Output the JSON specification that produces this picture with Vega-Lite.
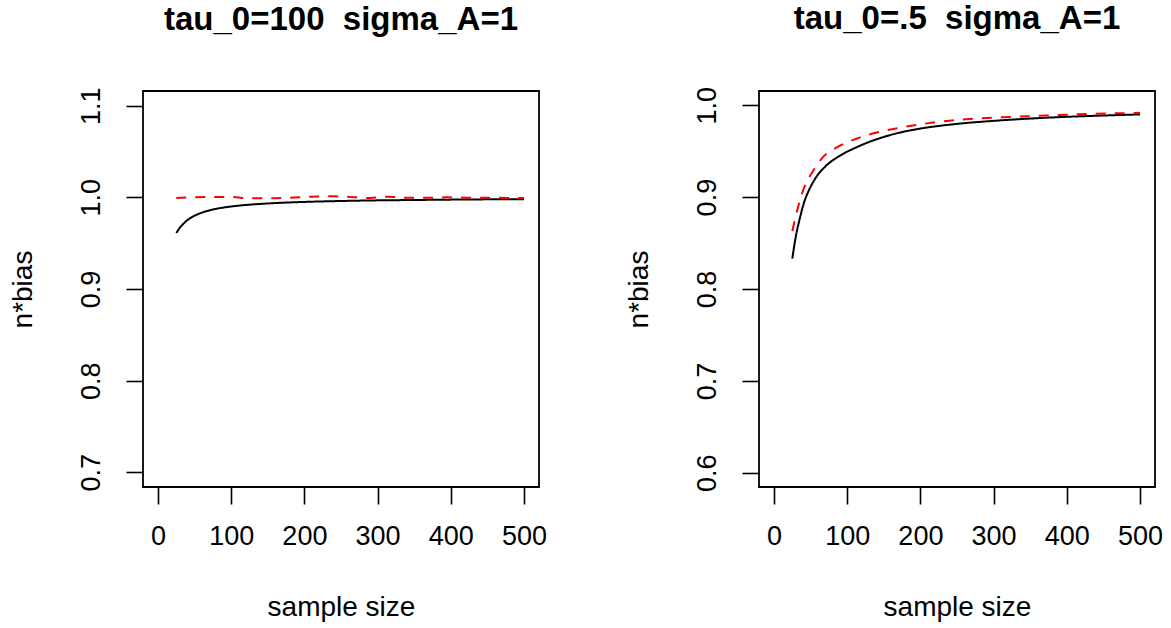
{
  "$schema": "https://vega.github.io/schema/vega-lite/v6.json",
  "background": "white",
  "padding": {"left": 8, "top": 2, "right": 5, "bottom": 5},
  "spacing": 220,
  "bounds": "flush",
  "config": {
    "view": {"stroke": "black", "strokeWidth": 1.8, "fill": "white"},
    "font": "Liberation Sans",
    "axis": {
      "domain": false, "grid": false, "ticks": true, "tickColor": "black", "tickWidth": 1.6, "tickSize": 17,
      "labelFont": "Liberation Sans", "labelFontSize": 27, "labelColor": "black",
      "titleFont": "Liberation Sans", "titleFontSize": 28, "titleFontWeight": "normal", "titleColor": "black"
    },
    "axisX": {"labelPadding": 19, "titlePadding": 44},
    "axisY": {"labelAngle": -90, "labelAlign": "center", "labelBaseline": "alphabetic", "labelPadding": 27, "titlePadding": 40},
    "title": {"font": "Liberation Sans", "fontSize": 33, "fontWeight": "bold", "color": "black", "anchor": "middle", "offset": 50}
  },
  "datasets": {
    "left": [
      {"n": 25, "value": 0.961, "series": "exact"},
      {"n": 30, "value": 0.967, "series": "exact"},
      {"n": 35, "value": 0.9714, "series": "exact"},
      {"n": 40, "value": 0.975, "series": "exact"},
      {"n": 50, "value": 0.980, "series": "exact"},
      {"n": 60, "value": 0.9833, "series": "exact"},
      {"n": 75, "value": 0.9867, "series": "exact"},
      {"n": 100, "value": 0.990, "series": "exact"},
      {"n": 125, "value": 0.992, "series": "exact"},
      {"n": 150, "value": 0.9933, "series": "exact"},
      {"n": 200, "value": 0.995, "series": "exact"},
      {"n": 250, "value": 0.996, "series": "exact"},
      {"n": 300, "value": 0.9967, "series": "exact"},
      {"n": 350, "value": 0.9971, "series": "exact"},
      {"n": 400, "value": 0.9975, "series": "exact"},
      {"n": 450, "value": 0.9978, "series": "exact"},
      {"n": 500, "value": 0.998, "series": "exact"},
      {"n": 25, "value": 0.9993, "series": "sim"},
      {"n": 44, "value": 1.0, "series": "sim"},
      {"n": 71, "value": 1.0004, "series": "sim"},
      {"n": 99, "value": 1.0004, "series": "sim"},
      {"n": 126, "value": 0.9989, "series": "sim"},
      {"n": 154, "value": 0.9989, "series": "sim"},
      {"n": 181, "value": 0.9996, "series": "sim"},
      {"n": 208, "value": 1.0007, "series": "sim"},
      {"n": 236, "value": 1.0011, "series": "sim"},
      {"n": 263, "value": 1.0004, "series": "sim"},
      {"n": 290, "value": 0.9993, "series": "sim"},
      {"n": 313, "value": 1.0007, "series": "sim"},
      {"n": 340, "value": 0.9996, "series": "sim"},
      {"n": 368, "value": 0.9996, "series": "sim"},
      {"n": 395, "value": 1.0, "series": "sim"},
      {"n": 423, "value": 0.9996, "series": "sim"},
      {"n": 450, "value": 0.9996, "series": "sim"},
      {"n": 478, "value": 0.9993, "series": "sim"},
      {"n": 500, "value": 0.9993, "series": "sim"}
    ],
    "right": [
      {"n": 25, "value": 0.833, "series": "exact"},
      {"n": 30, "value": 0.858, "series": "exact"},
      {"n": 35, "value": 0.876, "series": "exact"},
      {"n": 41, "value": 0.894, "series": "exact"},
      {"n": 48, "value": 0.908, "series": "exact"},
      {"n": 57, "value": 0.921, "series": "exact"},
      {"n": 71, "value": 0.934, "series": "exact"},
      {"n": 89, "value": 0.9446, "series": "exact"},
      {"n": 112, "value": 0.954, "series": "exact"},
      {"n": 125, "value": 0.9585, "series": "exact"},
      {"n": 150, "value": 0.9655, "series": "exact"},
      {"n": 175, "value": 0.9708, "series": "exact"},
      {"n": 200, "value": 0.9746, "series": "exact"},
      {"n": 250, "value": 0.9797, "series": "exact"},
      {"n": 300, "value": 0.983, "series": "exact"},
      {"n": 350, "value": 0.9855, "series": "exact"},
      {"n": 400, "value": 0.9874, "series": "exact"},
      {"n": 450, "value": 0.9888, "series": "exact"},
      {"n": 500, "value": 0.990, "series": "exact"},
      {"n": 25, "value": 0.863, "series": "sim"},
      {"n": 32, "value": 0.8866, "series": "sim"},
      {"n": 41, "value": 0.910, "series": "sim"},
      {"n": 53, "value": 0.928, "series": "sim"},
      {"n": 66, "value": 0.9428, "series": "sim"},
      {"n": 89, "value": 0.9554, "series": "sim"},
      {"n": 116, "value": 0.9645, "series": "sim"},
      {"n": 144, "value": 0.971, "series": "sim"},
      {"n": 171, "value": 0.9754, "series": "sim"},
      {"n": 198, "value": 0.979, "series": "sim"},
      {"n": 243, "value": 0.9835, "series": "sim"},
      {"n": 298, "value": 0.9865, "series": "sim"},
      {"n": 348, "value": 0.988, "series": "sim"},
      {"n": 402, "value": 0.9898, "series": "sim"},
      {"n": 457, "value": 0.991, "series": "sim"},
      {"n": 500, "value": 0.9917, "series": "sim"}
    ]
  },
  "hconcat": [
    {
      "title": "tau_0=100\u00a0\u00a0sigma_A=1",
      "width": 396, "height": 396,
      "data": {"name": "left"},
      "mark": {"type": "line", "strokeWidth": 2, "clip": true, "interpolate": "monotone"},
      "encoding": {
        "x": {"field": "n", "type": "quantitative", "title": "sample size",
              "scale": {"domain": [-20.5, 520.5], "nice": false, "zero": false},
              "axis": {"values": [0, 100, 200, 300, 400, 500], "format": "d"}},
        "y": {"field": "value", "type": "quantitative", "title": "n*bias",
              "scale": {"domain": [0.684, 1.116], "nice": false, "zero": false},
              "axis": {"values": [0.7, 0.8, 0.9, 1.0, 1.1], "format": ".1f"}},
        "color": {"field": "series", "type": "nominal", "legend": null,
                  "scale": {"domain": ["exact", "sim"], "range": ["black", "red"]}},
        "strokeDash": {"field": "series", "type": "nominal", "legend": null,
                       "scale": {"domain": ["exact", "sim"], "range": [[1, 0], [10, 9]]}}
      }
    },
    {
      "title": "tau_0=.5\u00a0\u00a0sigma_A=1",
      "width": 396, "height": 396,
      "data": {"name": "right"},
      "mark": {"type": "line", "strokeWidth": 2, "clip": true, "interpolate": "monotone"},
      "encoding": {
        "x": {"field": "n", "type": "quantitative", "title": "sample size",
              "scale": {"domain": [-20.5, 520.5], "nice": false, "zero": false},
              "axis": {"values": [0, 100, 200, 300, 400, 500], "format": "d"}},
        "y": {"field": "value", "type": "quantitative", "title": "n*bias",
              "scale": {"domain": [0.5845, 1.0155], "nice": false, "zero": false},
              "axis": {"values": [0.6, 0.7, 0.8, 0.9, 1.0], "format": ".1f"}},
        "color": {"field": "series", "type": "nominal", "legend": null,
                  "scale": {"domain": ["exact", "sim"], "range": ["black", "red"]}},
        "strokeDash": {"field": "series", "type": "nominal", "legend": null,
                       "scale": {"domain": ["exact", "sim"], "range": [[1, 0], [10, 9]]}}
      }
    }
  ]
}
